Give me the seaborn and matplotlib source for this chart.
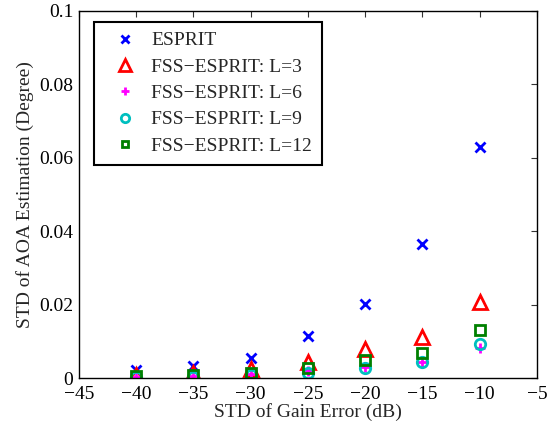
import numpy as np
import pandas as pd
import matplotlib
matplotlib.use("Agg")
import matplotlib.pyplot as plt
import seaborn as sns

# Data
gain_err = [-40, -35, -30, -25, -20, -15, -10]
esprit = [0.0023, 0.0032, 0.0055, 0.0114, 0.0202, 0.0365, 0.0630]
fss_l3 = [0.0008, 0.0014, 0.0024, 0.0044, 0.0078, 0.0112, 0.0207]
fss_l6 = [0.0003, 0.0005, 0.0010, 0.0018, 0.0030, 0.0043, 0.0083]
fss_l9 = [0.0002, 0.0004, 0.0009, 0.0014, 0.0028, 0.0043, 0.0093]
fss_l12 = [0.0006, 0.0008, 0.0014, 0.0027, 0.0048, 0.0067, 0.0132]

series = [
    ("ESPRIT", esprit, "x", (0, 0, 1)),
    ("FSS\u2212ESPRIT: L=3", fss_l3, "^", (1, 0, 0)),
    ("FSS\u2212ESPRIT: L=6", fss_l6, "+", (1, 0, 1)),
    ("FSS\u2212ESPRIT: L=9", fss_l9, "o", (0, 0.75, 0.75)),
    ("FSS\u2212ESPRIT: L=12", fss_l12, "s", (0, 0.5, 0)),
]

sns.set_style("white")
plt.rcParams['font.family'] = ['Liberation Serif', 'DejaVu Serif']

fs = 14
fig = plt.figure(figsize=(5.47, 4.28), dpi=100)
ax = fig.add_axes([0.1444, 0.1168, 0.837, 0.8575])

# marker size in plot / in legend
sizes = {"x": 7, "^": 9.5, "+": 7, "o": 7.5, "s": 6.5}
leg_sizes = {"x": 6, "^": 8, "+": 6, "o": 6, "s": 5}
for name, vals, mk, col in series:
    df = pd.DataFrame({"x": gain_err, "y": vals})
    sns.lineplot(data=df, x="x", y="y", ax=ax, linestyle="", marker=mk,
                 color=col, markerfacecolor="none", markeredgecolor=col,
                 markeredgewidth=2, markersize=sizes[mk], errorbar=None,
                 label=name)

ax.set_xlim(-45, -5)
ax.set_ylim(0, 0.1)
ax.set_xticks(np.arange(-45, -4, 5))
ax.set_yticks([0, 0.02, 0.04, 0.06, 0.08, 0.1])
ax.set_yticklabels(["0", "0.02", "0.04", "0.06", "0.08", "0.1"])
ax.tick_params(direction="in", top=True, right=True, labelsize=fs,
               length=4, width=0.8, color="#333333", labelcolor="black")
ax.tick_params(axis="x", pad=6)
ax.tick_params(axis="y", pad=4)
for s in ax.spines.values():
    s.set_color("black")
    s.set_linewidth(1.0)
ax.set_xlabel("STD of Gain Error (dB)", fontsize=fs, labelpad=0)
ax.set_ylabel("STD of AOA Estimation (Degree)", fontsize=fs, labelpad=4)

leg = ax.legend(loc="upper left", bbox_to_anchor=(0.0328, 0.970), borderaxespad=0,
                fancybox=False, edgecolor="black", framealpha=1, fontsize=fs,
                handletextpad=0.25, handlelength=2.2, borderpad=0.5,
                labelspacing=0.45)
leg.get_frame().set_linewidth(1.5)
for h, (_, _, mk, _) in zip(leg.legend_handles, series):
    h.set_markersize(leg_sizes[mk])

fig.savefig("out.png", dpi=100)
